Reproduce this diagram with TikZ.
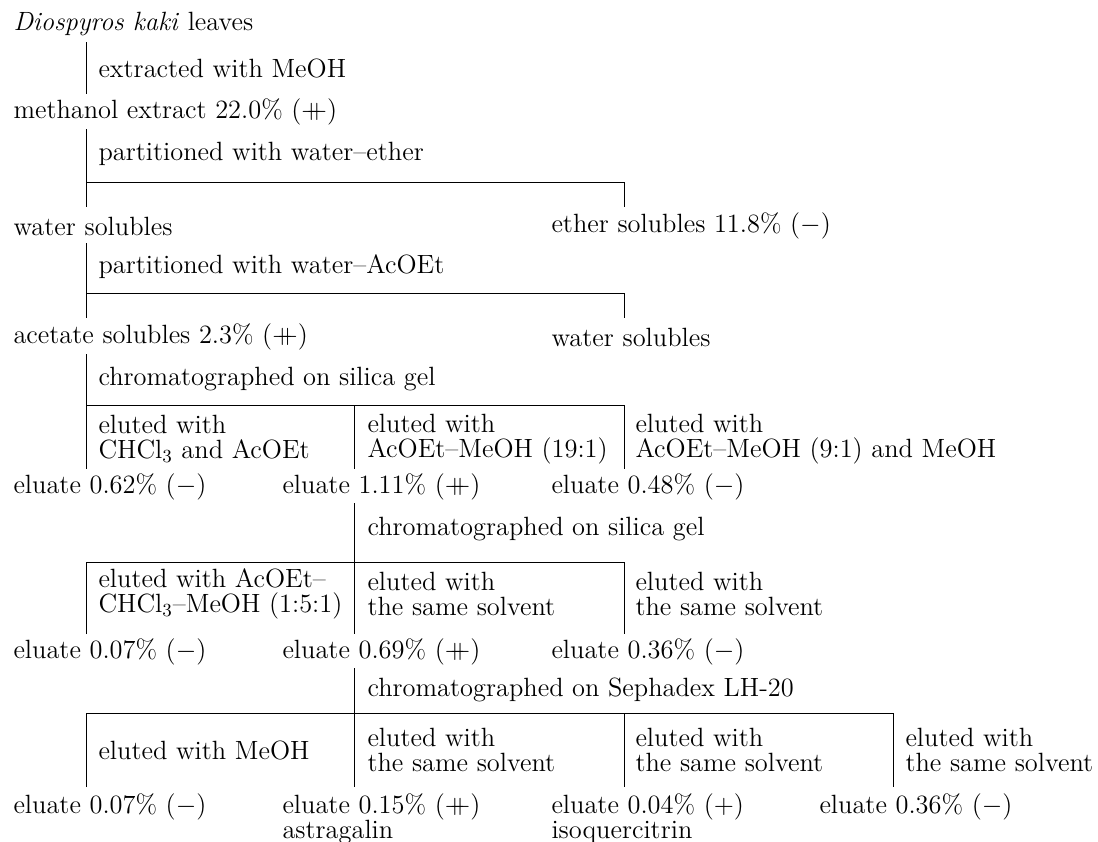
\documentclass[tikz,border=0pt]{standalone}
\usepackage{fix-cm}
\usepackage{fontspec}
\newcommand{\dbl}{\ensuremath{+\mkern-10mu+}}
\begin{document}
\begin{tikzpicture}[x=0.5pt, y=-0.5pt, line width=0.5pt,
    txt/.style={anchor=west, inner sep=0pt, align=left,
      font=\fontsize{13.2}{12.5}\selectfont}]
\useasboundingbox (0,0) rectangle (1098,841);

% Extraction
\node[txt] (leaves) at (13,24) {\textit{Diospyros kaki} leaves};
\coordinate (a1) at (86,42);
\coordinate (a2) at (86,94);
\draw (a1) -- (a2);
\node[txt] (extr) at (98,68) {extracted with MeOH};
\node[txt] (mext) at (13,112) {methanol extract 22.0\% (\dbl)};

% Water-ether partition
\coordinate (b1) at (86,129);
\coordinate (b2) at (86,207);
\coordinate (b3) at (624,182);
\coordinate (b4) at (624,207);
\draw (b1) -- (b2);
\draw (b1 |- b3) -- (b3) -- (b4);
\node[txt] (part1) at (98,154) {partitioned with water--ether};
\node[txt] (wsol1) at (13,226) {water solubles};
\node[txt] (esol) at (551,226) {ether solubles 11.8\% ($-$)};

% Water-AcOEt partition
\coordinate (c1) at (86,243);
\coordinate (c2) at (86,318);
\coordinate (c3) at (624,293);
\coordinate (c4) at (624,318);
\draw (c1) -- (c2);
\draw (c1 |- c3) -- (c3) -- (c4);
\node[txt] (part2) at (98,267) {partitioned with water--AcOEt};
\node[txt] (asol) at (13,337) {acetate solubles 2.3\% (\dbl)};
\node[txt] (wsol2) at (551,337) {water solubles};

% Silica gel, first column
\coordinate (d1) at (86,354);
\coordinate (d2) at (86,469);
\coordinate (d3) at (354,405);
\coordinate (d4) at (354,469);
\coordinate (d5) at (624,405);
\coordinate (d6) at (624,469);
\draw (d1) -- (d2);
\draw (d1 |- d3) -- (d5) -- (d6);
\draw (d3) -- (d4);
\node[txt] (chr1) at (98,379) {chromatographed on silica gel};
\node[txt] (el11) at (98,439) {eluted with\\CHCl$_3$ and AcOEt};
\node[txt] (el12) at (367,439) {eluted with\\AcOEt--MeOH (19:1)};
\node[txt] (el13) at (635,439) {eluted with\\AcOEt--MeOH (9:1) and MeOH};
\node[txt] (eu11) at (13,487) {eluate 0.62\% ($-$)};
\node[txt] (eu12) at (282,487) {eluate 1.11\% (\dbl)};
\node[txt] (eu13) at (551,487) {eluate 0.48\% ($-$)};

% Silica gel, second column
\coordinate (e1) at (354,503);
\coordinate (e2) at (354,634);
\coordinate (e3) at (86,562);
\coordinate (e4) at (86,634);
\coordinate (e5) at (624,562);
\coordinate (e6) at (624,634);
\draw (e1) -- (e2);
\draw (e4) -- (e3) -- (e5) -- (e6);
\node[txt] (chr2) at (367,529) {chromatographed on silica gel};
\node[txt] (el21) at (98,594) {eluted with AcOEt--\\CHCl$_3$--MeOH (1:5:1)};
\node[txt] (el22) at (367,594) {eluted with\\the same solvent};
\node[txt] (el23) at (635,594) {eluted with\\the same solvent};
\node[txt] (eu21) at (13,652) {eluate 0.07\% ($-$)};
\node[txt] (eu22) at (282,652) {eluate 0.69\% (\dbl)};
\node[txt] (eu23) at (551,652) {eluate 0.36\% ($-$)};

% Sephadex LH-20
\coordinate (f1) at (354,668);
\coordinate (f2) at (354,787);
\coordinate (f3) at (86,713);
\coordinate (f4) at (86,787);
\coordinate (f5) at (893,713);
\coordinate (f6) at (893,787);
\coordinate (f7) at (624,713);
\coordinate (f8) at (624,787);
\draw (f1) -- (f2);
\draw (f4) -- (f3) -- (f5) -- (f6);
\draw (f7) -- (f8);
\node[txt] (chr3) at (367,690) {chromatographed on Sephadex LH-20};
\node[txt] (el31) at (98,750) {eluted with MeOH};
\node[txt] (el32) at (367,750) {eluted with\\the same solvent};
\node[txt] (el33) at (635,750) {eluted with\\the same solvent};
\node[txt] (el34) at (905,750) {eluted with\\the same solvent};
\node[txt, anchor=north west] (eu31) at (13,793) {eluate 0.07\% ($-$)};
\node[txt, anchor=north west] (eu32) at (282,793) {eluate 0.15\% (\dbl)\\astragalin};
\node[txt, anchor=north west] (eu33) at (551,793) {eluate 0.04\% ($+$)\\isoquercitrin};
\node[txt, anchor=north west] (eu34) at (819,793) {eluate 0.36\% ($-$)};
\end{tikzpicture}
\end{document}
